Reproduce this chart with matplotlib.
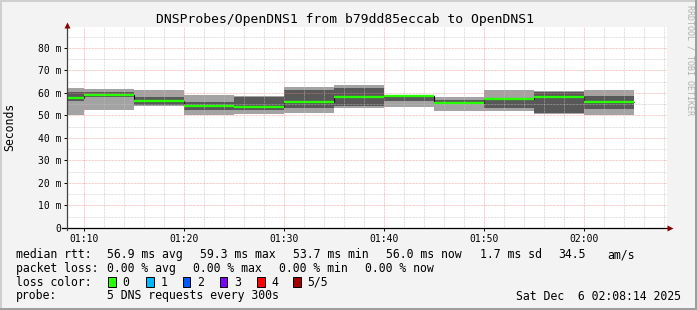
import matplotlib
matplotlib.use("Agg")
import matplotlib.pyplot as plt
from matplotlib.lines import Line2D
from matplotlib.patches import Rectangle
import numpy as np

# Data: 5-minute steps, minutes after 01:00
edges = [5, 10, 15, 20, 25, 30, 35, 40, 45, 50, 55, 60, 65]
# sorted pings (ms): min, 2nd, median, 4th, max
p_min = [50.4, 52.4, 54.0, 50.2, 50.8, 51.3, 53.3, 53.9, 51.8, 52.1, 50.5, 50.2]
p_lo = [56.6, 58.4, 54.5, 52.4, 52.4, 53.2, 54.0, 56.6, 54.9, 53.2, 51.3, 52.9]
median = [57.8, 59.3, 56.4, 54.2, 53.7, 56.0, 58.4, 58.5, 55.7, 57.5, 58.4, 56.0]
p_hi = [60.6, 60.3, 58.4, 56.0, 58.4, 61.3, 62.2, 58.5, 56.9, 57.8, 60.6, 58.8]
p_max = [62.2, 61.8, 61.3, 59.1, 58.6, 62.7, 63.7, 58.7, 58.4, 61.3, 60.8, 61.3]

time_ticks = [10, 20, 30, 40, 50, 60]
time_labels = ["01:10", "01:20", "01:30", "01:40", "01:50", "02:00"]
y_ticks = [0, 10, 20, 30, 40, 50, 60, 70, 80]

loss_labels = ["0", "1", "2", "3", "4", "5/5"]
loss_colors = ["#26ff00", "#00b8ff", "#0059ff", "#7e00ff", "#ff0000", "#a00000"]

W, H = 697, 310
MONO = "DejaVu Sans Mono"

fig = plt.figure(figsize=(W / 100, H / 100), dpi=100, facecolor="#f3f3f3")
ax = fig.add_axes([67 / W, (H - 228) / H, 600 / W, 201 / H])
ax.set_facecolor("white")
ax.set_xlim(8.333, 68.333)
ax.set_ylim(0, 89.3)

# smoke bands
ax.stairs(p_max, edges, baseline=p_min, fill=True, color="#a3a3a3", lw=0, zorder=2)
ax.stairs(p_hi, edges, baseline=p_lo, fill=True, color="#585858", lw=0, zorder=3)
# median: black steps, green level segments (0 loss)
ax.stairs(median, edges, baseline=None, color="black", lw=0.8, zorder=4)
ax.hlines(median, edges[:-1], edges[1:], color=loss_colors[0], lw=1.7, zorder=5)

# grid (drawn over the smoke like rrdtool)
dot = (0, (0.72, 0.72))
for x in np.arange(10, 68.4, 2):
    if x % 10:
        ax.axvline(x, color="#c0c0c0", lw=0.72, ls=dot, alpha=0.65, zorder=6)
for y in np.arange(5, 89, 10):
    ax.axhline(y, color="#c0c0c0", lw=0.72, ls=dot, alpha=0.65, zorder=6)
for x in time_ticks:
    ax.axvline(x, color="#f08888", lw=0.72, ls=dot, alpha=0.6, zorder=6)
for y in y_ticks[1:]:
    ax.axhline(y, color="#f08888", lw=0.72, ls=dot, alpha=0.6, zorder=6)

for s in ax.spines.values():
    s.set_visible(False)

ax.set_xticks(time_ticks)
ax.set_xticklabels(time_labels, fontfamily=MONO, fontsize=7)
ax.set_yticks(y_ticks)
ax.set_yticklabels([f"{v} m" if v else "0" for v in y_ticks], fontfamily=MONO, fontsize=7)
ax.tick_params(axis="y", length=2.5, width=0.7, color="black", pad=1.5)
ax.tick_params(axis="x", length=2, width=0.7, color="black", pad=2)

# axes lines with arrows
ax.plot([-0.008, 1.003], [0, 0], transform=ax.transAxes, color="black", lw=0.9,
        clip_on=False, zorder=7)
ax.plot([0, 0], [-0.01, 1.005], transform=ax.transAxes, color="#404040", lw=0.9,
        clip_on=False, zorder=7)
ax.plot([1.005], [0], transform=ax.transAxes, marker=">", ms=4.5, color="#8b0000",
        clip_on=False, zorder=8, mec="none")
ax.plot([0], [1.012], transform=ax.transAxes, marker="^", ms=4.5, color="#8b0000",
        clip_on=False, zorder=8, mec="none")


def txt(x, y, s, **kw):
    kw.setdefault("fontfamily", MONO)
    kw.setdefault("fontsize", 8.3)
    kw.setdefault("va", "center")
    fig.text(x / W, 1 - y / H, s, **kw)


txt(345, 19, "DNSProbes/OpenDNS1 from b79dd85eccab to OpenDNS1", fontsize=9.4, ha="center")
txt(10, 127, "Seconds", rotation=90, ha="center")
txt(690, 60, "RRDTOOL / TOBI OETIKER", rotation=270, ha="center", fontsize=6,
    color="#b0b0b0")

# legend rows
rows_y = [254.5, 268.5, 282, 296]
txt(16, rows_y[0], "median rtt:")
for x, s in zip([107.3, 200.3, 293.3, 386.3, 479.7, 558, 607],
                ["56.9 ms avg", "59.3 ms max", "53.7 ms min", "56.0 ms now",
                 "1.7 ms sd", "34.5", "am/s"]):
    txt(x, rows_y[0], s)
txt(16, rows_y[1], "packet loss:")
for x, s in zip([107.3, 193.3, 279.3, 365.3],
                ["0.00 % avg", "0.00 % max", "0.00 % min", "0.00 % now"]):
    txt(x, rows_y[1], s)
txt(16, rows_y[2], "loss color:")
box_x = [108.3, 146, 182.7, 219.7, 257, 293.3]
for bx, lab, col in zip(box_x, loss_labels, loss_colors):
    fig.add_artist(Rectangle((bx / W, 1 - 287 / H), 7.5 / W, 10.5 / H,
                             transform=fig.transFigure, facecolor=col,
                             edgecolor="black", lw=0.7))
    txt(bx + 14.3, rows_y[2], lab)
txt(16, rows_y[3], "probe:")
txt(107.3, rows_y[3], "5 DNS requests every 300s")
txt(680.5, rows_y[3], "Sat Dec  6 02:08:14 2025", ha="right")

# 3d frame
for xs, ys, c in [([0, 1], [1 - 1 / H] * 2, "#cfcfcf"),
                  ([1 / W] * 2, [0, 1], "#cfcfcf"),
                  ([0, 1], [1 / H] * 2, "#9e9e9e"),
                  ([1 - 1 / W] * 2, [0, 1], "#9e9e9e")]:
    fig.add_artist(Line2D(xs, ys, transform=fig.transFigure, color=c, lw=1.44))

fig.savefig("out.png", dpi=100, facecolor=fig.get_facecolor())
